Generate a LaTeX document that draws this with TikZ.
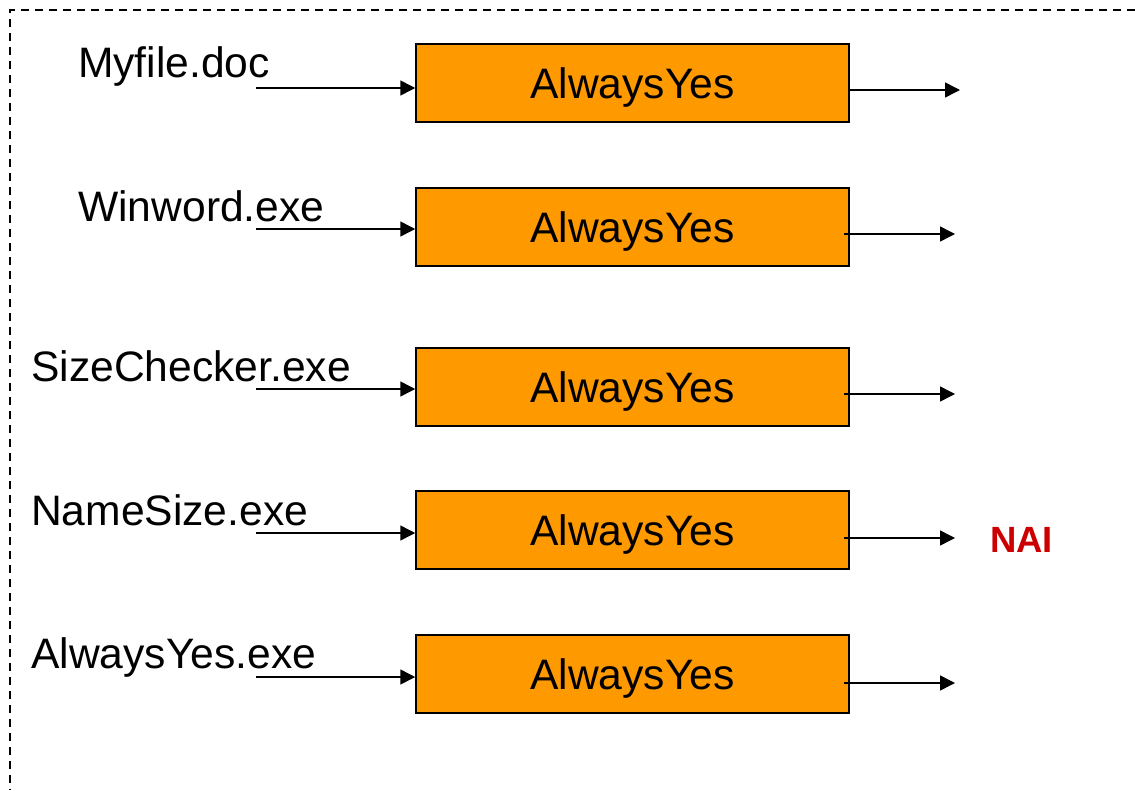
\documentclass[tikz,border=0pt]{standalone}
\usepackage{fontspec}
\setmainfont{Liberation Sans}
\usetikzlibrary{arrows.meta}
\definecolor{boxorange}{HTML}{FF9900}
\definecolor{naired}{HTML}{CC0000}
\begin{document}
\begin{tikzpicture}[x=1pt,y=-1pt,
  lbl/.style={anchor=base west,inner sep=0pt,font=\fontsize{42.6}{50}\selectfont},
  ybox/.style={draw=black,line width=1.5pt,fill=boxorange,minimum width=433pt,minimum height=78pt,
    inner sep=0pt,text height=30.5pt,text depth=0pt,font=\fontsize{42.6}{50}\selectfont},
  arr/.style={line width=1.5pt,-{Triangle[length=15pt,width=15pt]}},
  frame/.style={line width=2.5pt,dash pattern=on 8pt off 6pt}]
\useasboundingbox (0,0) rectangle (1135,790);
\draw[frame] (1135,10) -- (10,10) -- (10,790);
% boxes
\node[ybox] (b1) at (632.5,83) {AlwaysYes};
\node[ybox] (b2) at (632.5,227) {AlwaysYes};
\node[ybox] (b3) at (632.5,387) {AlwaysYes};
\node[ybox] (b4) at (632.5,530) {AlwaysYes};
\node[ybox] (b5) at (632.5,674) {AlwaysYes};
% labels
\node[lbl] (l1) at (78,77) {Myfile.doc};
\node[lbl] (l2) at (78,221) {Winword.exe};
\node[lbl] (l3) at (31,381) {SizeChecker.exe};
\node[lbl] (l4) at (31,525) {NameSize.exe};
\node[lbl] (l5) at (31,668) {AlwaysYes.exe};
\node[anchor=base west,inner sep=0pt,text=naired,font=\fontsize{36.5}{43}\selectfont\bfseries] (nai) at (990,552) {NAI};
% input starts
\coordinate (s1) at (256,88);
\coordinate (s2) at (256,229);
\coordinate (s3) at (256,389);
\coordinate (s4) at (256,533);
\coordinate (s5) at (256,677);
% output ends
\coordinate (e1) at (960,90);
\coordinate (e2) at (955,234);
\coordinate (e3) at (955,394);
\coordinate (e4) at (955,538);
\coordinate (e5) at (955,683);
\foreach \i in {1,...,5} {
  \draw[arr] (s\i) -- (s\i -| b\i.west);
}
\draw[arr] (b1.east |- e1) -- (e1);
\foreach \i in {2,...,5} {
  \draw[arr] ([xshift=-6pt]b\i.east |- e\i) -- (e\i);
}
\end{tikzpicture}
\end{document}
